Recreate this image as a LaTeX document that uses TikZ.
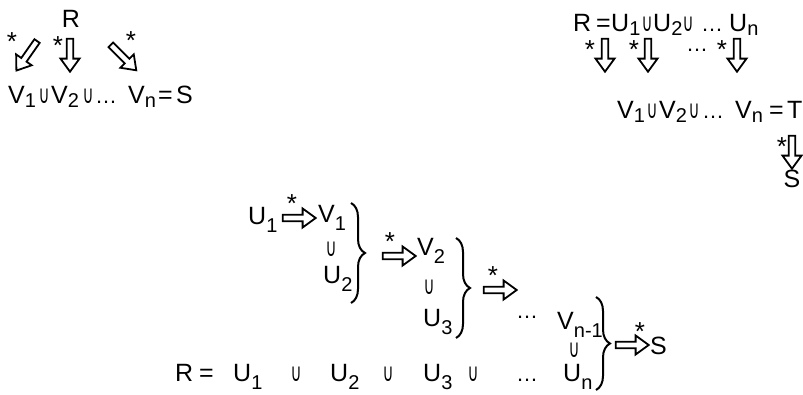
\documentclass[tikz,border=0pt]{standalone}
\usepackage{fontspec}
\usepackage{graphicx}
\setmainfont{Liberation Sans}
\newfontfamily\djv{DejaVu Sans}
\usetikzlibrary{shapes.arrows,decorations.pathreplacing}

\newcommand{\lo}[1]{\raisebox{-4pt}{\fontsize{20}{20}\selectfont #1}}
\newcommand{\llo}[1]{\raisebox{-8pt}{\fontsize{20}{20}\selectfont #1}}
\newcommand{\un}{\scalebox{0.75}[1.25]{∪}}

\tikzset{
  txt/.style={font=\fontsize{25}{25}\selectfont,inner sep=0pt,anchor=base west},
  uni/.style={font=\djv\fontsize{20}{20}\selectfont,inner sep=0pt,anchor=base},
  dots/.style={font=\fontsize{22}{22}\selectfont,inner sep=0pt,anchor=base west,
    text height=3pt,text depth=0pt},
  star/.style={font=\fontsize{26}{26}\selectfont,inner sep=0pt,anchor=north},
  hollow/.style={single arrow,draw,line width=1.8pt,inner sep=2.3pt,minimum height=33pt,
    single arrow head extend=6.3pt,single arrow tip angle=72},
  brc/.style={decorate,decoration={brace,amplitude=14pt},line width=2pt}
}

\begin{document}
\begin{tikzpicture}[x=1pt,y=-1pt]
  \useasboundingbox (0,0) rectangle (803,394);

  % top left
  \node[txt,anchor=base] (tlR) at (71,27) {R};
  \node[hollow,rotate=-125,minimum height=36pt] (tla) at (28,54) {};
  \node[hollow,rotate=-90] (tlb) at (70,53) {};
  \node[hollow,rotate=-45,minimum height=36pt] (tlc) at (122,56) {};
  \node[star] (tls1) at (12,32) {*};
  \node[star] (tls2) at (58,36) {*};
  \node[star] (tls3) at (131,31) {*};
  \node[txt] (tlV1) at (8,103) {V\lo{1}};
  \node[uni] (tlu1) at (44,103) {\un};
  \node[txt] (tlV2) at (51,103) {V\lo{2}};
  \node[uni] (tlu2) at (88,103) {\un};
  \node[dots] (tldots) at (95,103) {…};
  \node[txt] (tlVn) at (128,103) {V\lo{n}};
  \node[txt] (tleq) at (158,103) {=};
  \node[txt] (tlS) at (176,103) {S};

  % top right
  \node[txt] (trR) at (573,31) {R};
  \node[txt] (treq) at (596,31) {=};
  \node[txt] (trU1) at (611,31) {U\lo{1}};
  \node[uni] (tru1) at (647,31) {\un};
  \node[txt] (trU2) at (653,31) {U\lo{2}};
  \node[uni] (tru2) at (688,31) {\un};
  \node[dots] (trdots) at (701,31) {…};
  \node[txt] (trUn) at (729,31) {U\lo{n}};
  \node[hollow,rotate=-90] (tra) at (605,53) {};
  \node[hollow,rotate=-90] (trb) at (648,53) {};
  \node[hollow,rotate=-90] (trc) at (737,53) {};
  \node[star] (trs1) at (590,40) {*};
  \node[star] (trs2) at (634,40) {*};
  \node[star] (trs3) at (722,40) {*};
  \node[dots,anchor=base] (trmid) at (697,51) {…};
  \node[txt] (trV1) at (617,118) {V\lo{1}};
  \node[uni] (trv1) at (652,118) {\un};
  \node[txt] (trV2) at (659,118) {V\lo{2}};
  \node[uni] (trv2) at (694,118) {\un};
  \node[dots] (trvdots) at (702,118) {…};
  \node[txt] (trVn) at (735,118) {V\lo{n}};
  \node[txt] (trveq) at (769,118) {=};
  \node[txt] (trT) at (787,118) {T};
  \node[hollow,rotate=-90] (trd) at (792,150) {};
  \node[star] (trs4) at (782,137) {*};
  \node[txt,anchor=base] (trS) at (792,187) {S};

  % bottom
  \node[txt] (bU1) at (248,224) {U\llo{1}};
  \node[hollow] (ba) at (297,218) {};
  \node[star] (bs1) at (292,194) {*};
  \node[txt] (bV1) at (318,222) {V\llo{1}};
  \node[uni] (bu1) at (331,256) {\un};
  \node[txt] (bU2) at (323,283) {U\llo{2}};
  \draw[brc] (351,203) -- (351,303);
  \node[hollow] (bb) at (397,256) {};
  \node[star] (bs2) at (390,232) {*};
  \node[txt] (bV2) at (417,255) {V\llo{2}};
  \node[uni] (bu2) at (429,294) {\un};
  \node[txt] (bU3) at (423,326) {U\llo{3}};
  \draw[brc] (456,238) -- (456,338);
  \node[hollow] (bc) at (498,290) {};
  \node[star] (bs3) at (493,266) {*};
  \node[dots,anchor=base] (bdots) at (527,318) {…};
  \node[txt] (bVn1) at (557,329) {V\llo{n-1}};
  \node[uni] (bu3) at (574,357) {\un};
  \node[txt] (bUn) at (563,381) {U\llo{n}};
  \draw[brc] (596,297) -- (596,390);
  \node[hollow] (bd) at (630,345) {};
  \node[star] (bs4) at (640,322) {*};
  \node[txt] (bS) at (650,354) {S};

  % bottom row
  \node[txt] (rR) at (175,381) {R};
  \node[txt] (req) at (199,381) {=};
  \node[txt] (rU1) at (233,381) {U\llo{1}};
  \node[uni] (ru1) at (296,381) {\un};
  \node[txt] (rU2) at (330,381) {U\llo{2}};
  \node[uni] (ru2) at (388,381) {\un};
  \node[txt] (rU3) at (423,381) {U\llo{3}};
  \node[uni] (ru3) at (473,381) {\un};
  \node[dots,anchor=base] (rdots) at (527,381) {…};
\end{tikzpicture}
\end{document}
